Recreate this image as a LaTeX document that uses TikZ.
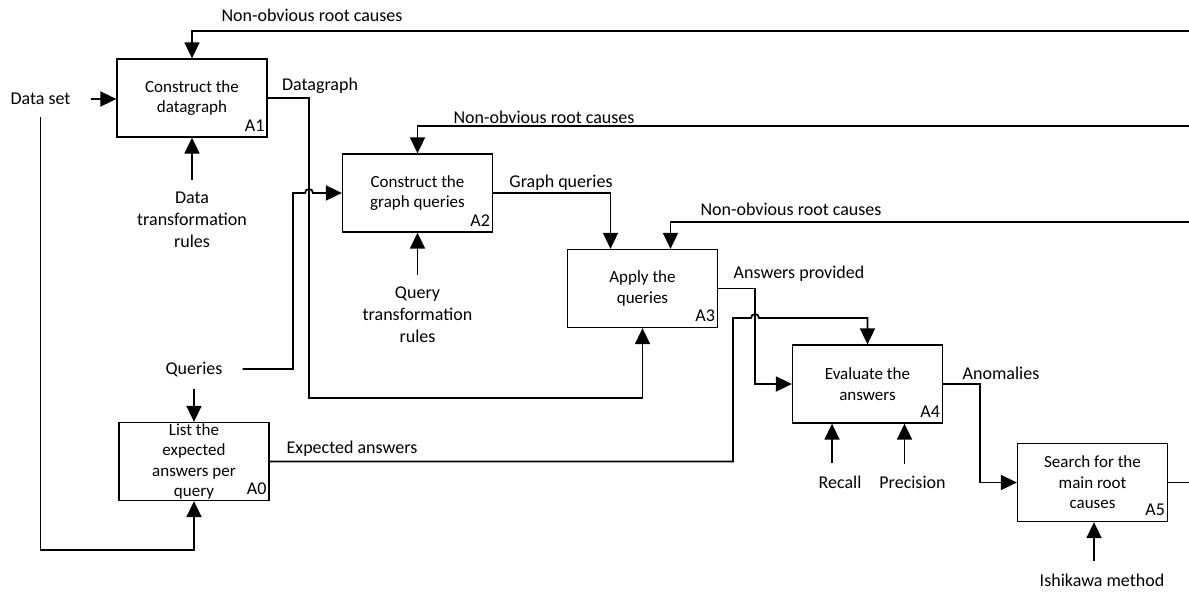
\documentclass[tikz,border=0pt]{standalone}
\usepackage{fontspec}
\setmainfont{Carlito}
\usetikzlibrary{arrows.meta}
\begin{document}
\begin{tikzpicture}[x=1pt,y=1pt]
    \tikzstyle{every node}+=[inner sep=0pt]
    \tikzstyle{activity}=[draw, line width=1.3pt, minimum width=150pt, minimum height=78pt, align=center, font=\fontsize{17}{20.5}\selectfont]
    \tikzstyle{tag}=[anchor=south east, inner xsep=3pt, inner ysep=6pt, font=\fontsize{18}{22}\selectfont]
    \tikzstyle{flowlabel}=[font=\fontsize{18}{22}\selectfont]
    \tikzstyle{source}=[align=center, inner xsep=20pt, inner ysep=12pt, font=\fontsize{18}{22}\selectfont]
    \tikzstyle{wire}=[line width=1.8pt]
    \tikzstyle{flow}=[wire, -{Triangle[length=16pt,width=15pt]}]
    \useasboundingbox (0,0) rectangle (1189,-595);

    % activities
    \node [activity] (A1) at (192,-98) {Construct the\\datagraph};
    \node [activity] (A2) at (417.5,-193) {Construct the\\graph queries};
    \node [activity] (A3) at (642.5,-288.5) {Apply the\\queries};
    \node [activity] (A4) at (867.5,-384) {Evaluate the\\answers};
    \node [activity] (A5) at (1092.5,-482.5) {Search for the\\main root\\causes};
    \node [activity] (A0) at (194,-461.5) {List the\\expected\\answers per\\query};
    \node [tag] (A1num) at (A1.south east) {A1};
    \node [tag] (A2num) at (A2.south east) {A2};
    \node [tag] (A3num) at (A3.south east) {A3};
    \node [tag] (A4num) at (A4.south east) {A4};
    \node [tag] (A5num) at (A5.south east) {A5};
    \node [tag] (A0num) at (A0.south east) {A0};

    % inputs and controls
    \node [source] (dataset) at (40.5,-99) {Data set};
    \node [source] (queries) at (194,-369) {Queries};
    \node [source] (dtr) at (192,-220) {Data\\transformation\\rules};
    \node [source] (qtr) at (417.5,-315) {Query\\transformation\\rules};
    \node [source] (recall) at (840,-482) {Recall};
    \node [source] (precision) at (912.5,-482) {Precision};
    \node [source] (ishikawa) at (1102,-580) {Ishikawa method};

    % labels on the flows
    \node [flowlabel] (lbRootA) at (312,-15) {Non-obvious root causes};
    \node [flowlabel] (lbRootB) at (544,-117) {Non-obvious root causes};
    \node [flowlabel] (lbRootC) at (791,-209) {Non-obvious root causes};
    \node [flowlabel] (lbDatagraph) at (320,-86) {Datagraph};
    \node [flowlabel] (lbGraphq) at (561,-183) {Graph queries};
    \node [flowlabel] (lbProvided) at (799,-274) {Answers provided};
    \node [flowlabel] (lbAnomalies) at (1001,-373) {Anomalies};
    \node [flowlabel] (lbExpected) at (352,-449) {Expected answers};

    % free ends at the right edge
    \coordinate (rootA) at (1189,-31);
    \coordinate (rootB) at (1189,-126);
    \coordinate (rootC) at (1189,-222);
    \coordinate (out) at (1189,-482.5);
    \coordinate (dsbend) at (41,-550);
    \path ([xshift=-8pt]recall.north) coordinate (rc);
    \path ([xshift=-8pt]precision.north) coordinate (pc);
    \path ([xshift=-8pt]ishikawa.north) coordinate (ic);

    \draw [flow] (dataset.east) -- (dataset.east -| A1.west);
    \draw [flow] (dataset.south) -- (dataset.south |- dsbend) -| (A0.south);
    \draw [flow] (queries.south) -- (A0.north);
    \draw [flow] (dtr.north) -- (A1.south);
    \draw [flow] (qtr.north) -- (A2.south);
    \draw [flow] (rc) -- (rc |- A4.south);
    \draw [flow] (pc) -- (pc |- A4.south);
    \draw [flow] (ic) -- (ic |- A5.south);

    % feedback
    \draw [flow] (rootA) -| (A1.north);
    \draw [flow] (rootB) -| (A2.north);
    \draw [flow] (rootC) -| ([xshift=28pt]A3.north);

    % outputs
    \draw [flow] (A1.east) -| (309,-398) -| (A3.south);
    \draw [flow] (queries.east) -| (293,-193) -- (305,-193) arc [start angle=180, end angle=0, radius=4pt] -- (A2.west);
    \draw [flow] (A2.east) -| ([xshift=-32pt]A3.north);
    \draw [flow] (A3.east) -| (755,-384) -- (A4.west);
    \draw [flow] (A0.east) -| (733,-318) -- (751,-318) arc [start angle=180, end angle=0, radius=4pt] -| (A4.north);
    \draw [flow] (A4.east) -| (980,-482.5) -- (A5.west);
    \draw [wire] (A5.east) -- (out);
\end{tikzpicture}
\end{document}
